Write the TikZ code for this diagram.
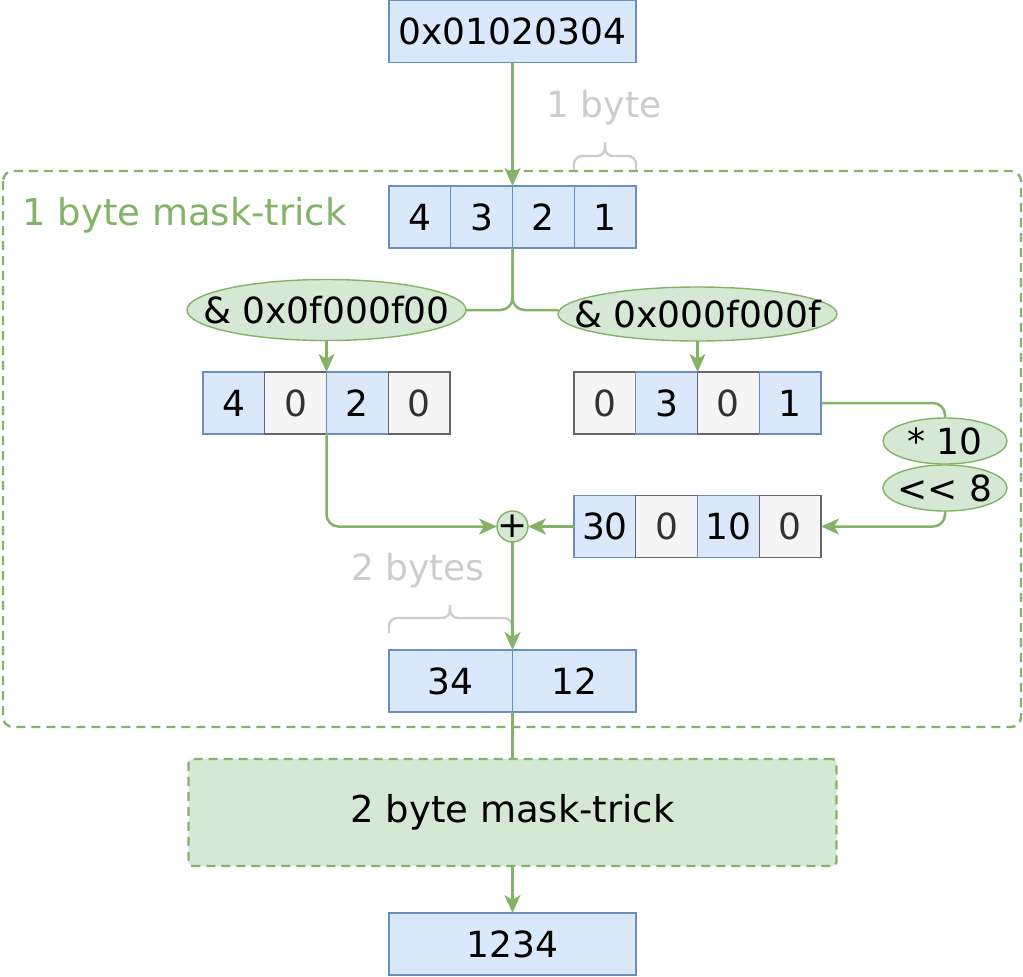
\documentclass[tikz,border=0pt]{standalone}
\usepackage{fontspec}
\setmainfont{DejaVu Sans}[Ligatures=TeXOff]
\usetikzlibrary{arrows.meta,shapes.geometric}

\definecolor{blfill}{HTML}{DAE8FC}
\definecolor{blline}{HTML}{6C8EBF}
\definecolor{grfill}{HTML}{F5F5F5}
\definecolor{grline}{HTML}{666666}
\definecolor{grtext}{HTML}{333333}
\definecolor{gnfill}{HTML}{D5E8D4}
\definecolor{gnline}{HTML}{82B366}
\definecolor{faint}{HTML}{CCCCCC}

\tikzset{
    bytebox/.style={draw=blline, fill=blfill, line width=0.7pt, minimum width=30.9pt, minimum height=31pt, inner sep=0pt, outer sep=0pt},
    zerobox/.style={draw=grline, fill=grfill, text=grtext, line width=0.7pt, minimum width=30.9pt, minimum height=31pt, inner sep=0pt, outer sep=0pt},
    maskop/.style={ellipse, draw=gnline, fill=gnfill, line width=0.7pt, inner sep=0pt, outer sep=0pt},
    flow/.style={draw=gnline, line width=1.25pt, -{Stealth[length=9pt,width=8pt,inset=2.5pt]}},
    link/.style={draw=gnline, line width=1.25pt},
    greendash/.style={draw=gnline, line width=1.2pt, dash pattern=on 4.5pt off 3pt},
    bracket/.style={draw=faint, line width=1.2pt, rounded corners=4pt},
}

\begin{document}
\begin{tikzpicture}[x=0.5pt, y=-0.5pt, font=\fontsize{18}{21.6}\selectfont]
        \useasboundingbox (0,0) rectangle (1023,976);

        % 1 byte mask-trick frame
        \draw [greendash, rounded corners=5pt] (3,171) rectangle (1021,727);
        \node [anchor=west, inner sep=0pt, text=gnline, font=\fontsize{18.5}{22}\selectfont] (title) at (22,215) {1 byte mask-trick};

        \node [bytebox, minimum width=123.5pt] (word) at (512.5,31.5) {0x01020304};

        \node [bytebox] (b4) at (419.9,217) {4};
        \node [bytebox] (b3) at (481.6,217) {3};
        \node [bytebox] (b2) at (543.4,217) {2};
        \node [bytebox] (b1) at (605.1,217) {1};

        \node [text=faint] (onebyte) at (604,108) {1 byte};
        \draw [bracket] (574,170) -- (574,156) -- (605,156) -- (605,142);
        \draw [bracket] (636,170) -- (636,156) -- (605,156) -- (605,142);

        \node [maskop, minimum width=139.5pt, minimum height=30.5pt] (andhi) at (326.5,310) {\makebox[0pt]{\& 0x0f000f00}};
        \node [maskop, minimum width=139.5pt, minimum height=27pt] (andlo) at (697.5,314) {\makebox[0pt]{\& 0x000f000f}};

        \node [bytebox] (m4) at (233.9,403) {4};
        \node [zerobox] (m0a) at (295.6,403) {0};
        \node [bytebox] (m2) at (357.4,403) {2};
        \node [zerobox] (m0b) at (419.1,403) {0};

        \node [zerobox] (n0a) at (604.9,403) {0};
        \node [bytebox] (n3) at (666.6,403) {3};
        \node [zerobox] (n0b) at (728.4,403) {0};
        \node [bytebox] (n1) at (790.1,403) {1};

        \node [maskop, minimum width=62pt, minimum height=23pt] (times) at (945,441) {\makebox[0pt]{* 10}};
        \node [maskop, minimum width=62pt, minimum height=23pt] (shift) at (945,488) {\makebox[0pt]{<< 8}};

        \node [bytebox] (s30) at (604.9,526.5) {30};
        \node [zerobox] (s0a) at (666.6,526.5) {0};
        \node [bytebox] (s10) at (728.4,526.5) {10};
        \node [zerobox] (s0b) at (790.1,526.5) {0};

        \node [circle, draw=gnline, fill=gnfill, line width=0.7pt, minimum size=15.5pt, inner sep=0pt, outer sep=0pt] (plus) at (512.5,526.5) {\makebox[0pt]{+}};

        \node [text=faint] (twobytes) at (418,571) {2 bytes};
        \draw [bracket] (389,633) -- (389,618) -- (450,618) -- (450,605);
        \draw [bracket] (512,633) -- (512,618) -- (450,618) -- (450,605);

        \node [bytebox, minimum width=61.75pt] (r34) at (450.75,681) {34};
        \node [bytebox, minimum width=61.75pt] (r12) at (574.25,681) {12};

        \node [greendash, fill=gnfill, rounded corners=2pt, outer sep=0pt, minimum width=324pt, minimum height=53.5pt, font=\fontsize{18.5}{22}\selectfont] (nextstage) at (512.5,812.5) {2 byte mask-trick};

        \node [bytebox, minimum width=123.5pt] (final) at (512.5,944) {1234};

        % connectors
        \draw [flow] (word.south) -- (b3.north east);
        \draw [link, rounded corners=6pt] (b3.south east) |- (andhi.east);
        \draw [link, rounded corners=6pt] (b3.south east) |- (andhi.east -| andlo.west);
        \draw [flow] (andhi.south) -- (m2.north west);
        \draw [flow] (andlo.south) -- (n0b.north west);
        \draw [link, rounded corners=6pt] (n1.east) -| (times.north);
        \draw [flow, rounded corners=6pt] (shift.south) |- (s0b.east);
        \draw [flow, rounded corners=6pt] (m2.south west) |- (plus.west);
        \draw [flow] (s30.west) -- (plus.east);
        \draw [flow] (plus.south) -- (r34.north east);
        \draw [link] (r34.south east) -- (nextstage.north);
        \draw [flow] (nextstage.south) -- (final.north);
    \end{tikzpicture}
\end{document}
